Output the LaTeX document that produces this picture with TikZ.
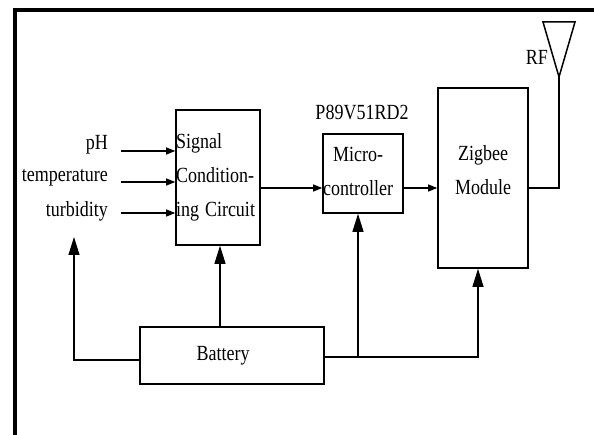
\documentclass[tikz,border=0pt]{standalone}
\usepackage{fontspec}
\usepackage{graphicx}
\setmainfont{Liberation Serif}
\usetikzlibrary{arrows.meta,calc}
\newcommand{\vst}[1]{\scalebox{1}[1.2]{#1}}
\newcommand{\vstack}[2]{\scalebox{1}[1.2]{\begin{tabular}{@{}#1@{}}#2\end{tabular}}}
\begin{document}
\begin{tikzpicture}[x=1pt,y=-1pt,
  box/.style={draw,line width=1.6pt,inner sep=0pt,font=\fontsize{18}{28.3}\selectfont},
  lbl/.style={inner sep=0pt,font=\fontsize{18}{22}\selectfont},
  wire/.style={line width=1.2pt},
  harr/.style={wire,-{Triangle[length=9pt,width=7pt]}},
  varr/.style={wire,-{Triangle[length=18pt,width=11pt]}}]
\useasboundingbox (0,0) rectangle (594,435);
\fill[white] (0,0) rectangle (594,435);
\draw[line width=4pt] (15,435) -- (15,10) -- (594,10);

% blocks
\node[box,minimum width=84pt,minimum height=135pt,text width=84pt,align=left] (sig) at (218,177.5) {\raisebox{2pt}[\height][\depth]{\vstack{l}{Signal\\Condition-\\ing Circuit}}};
\node[box,minimum width=80pt,minimum height=79pt,align=center] (mcu) at (363,173.5) {\kern-10pt\raisebox{2pt}[\height][\depth]{\vstack{c}{Micro-\\controller}}};
\node[box,minimum width=90pt,minimum height=180pt,align=center] (zig) at (483,178) {\raisebox{7pt}[\height][\depth]{\vstack{c}{Zigbee\\Module}}};
\node[box,minimum width=184pt,minimum height=57pt] (bat) at (232,355.5) {\kern-18pt\vst{Battery}};

% labels
\node[lbl] (part) at (362,112) {\vst{P89V51RD2}};
\node[lbl,anchor=east] (rf) at (548,57) {\vst{RF}};
\node[lbl,anchor=east] (ph) at (108,145) {\vst{pH}};
\node[lbl,anchor=east] (temp) at (108,178) {\vst{temperature}};
\node[lbl,anchor=east] (turb) at (108,211) {\vst{turbidity}};

% sensor inputs
\coordinate (i1) at (121,151);
\coordinate (i2) at (121,182);
\coordinate (i3) at (121,213);
\draw[harr] (i1) -- (sig.west |- i1);
\draw[harr] (i2) -- (sig.west |- i2);
\draw[harr] (i3) -- (sig.west |- i3);

% signal chain
\coordinate (m) at (0,188);
\draw[harr] (sig.east |- m) -- (mcu.west |- m);
\draw[harr] (mcu.east |- m) -- (zig.west |- m);

% antenna
\coordinate (a1) at (543,22);
\coordinate (a2) at (575,22);
\coordinate (tip) at (559,77);
\draw[wire] (zig.east |- m) -| (tip);
\draw[line width=1.5pt,line join=miter] (a1) -- (a2) -- (tip) -- cycle;

% power distribution
\coordinate (bl) at (74,237);
\coordinate (lrow) at (0,360);
\coordinate (rrow) at (0,357);
\coordinate (mx) at (358,0);
\coordinate (zx) at (478,0);
\coordinate (sx) at (220,0);
\draw[varr] (bat.west |- lrow) -| (bl);
\draw[varr] (bat.north -| sx) -- (sig.south -| sx);
\draw[varr] (bat.east |- rrow) -| (zig.south -| zx);
\draw[varr] (mx |- rrow) -- (mcu.south -| mx);
\end{tikzpicture}
\end{document}
